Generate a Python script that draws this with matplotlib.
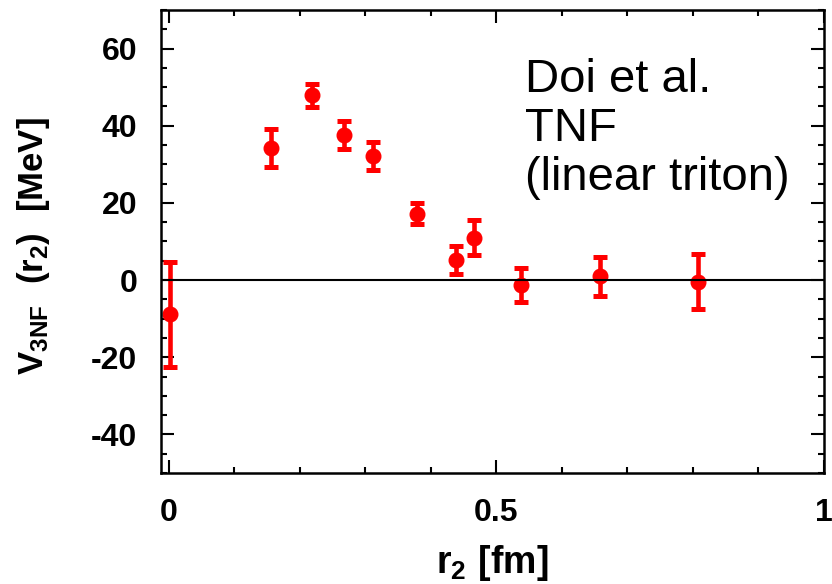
import numpy as np
import matplotlib
matplotlib.use("Agg")
import matplotlib.pyplot as plt
from matplotlib.ticker import MultipleLocator

plt.rcParams['font.family'] = ['Liberation Sans', 'DejaVu Sans']
plt.rcParams['axes.unicode_minus'] = False
plt.rcParams['mathtext.fontset'] = 'custom'
plt.rcParams['mathtext.rm'] = 'Liberation Sans:bold'
plt.rcParams['mathtext.bf'] = 'Liberation Sans:bold'
plt.rcParams['mathtext.it'] = 'Liberation Sans:bold'

## data
r2 = [0.0015, 0.156, 0.219, 0.268, 0.311, 0.379, 0.439, 0.466, 0.538, 0.658, 0.807]
v3nf = [-8.9, 34.2, 47.9, 37.6, 32.1, 17.2, 5.2, 11.0, -1.3, 1.0, -0.4]
err = [13.5, 5.0, 3.0, 3.7, 3.6, 2.7, 3.7, 4.6, 4.5, 5.1, 7.1]

xticks = [0, 0.5, 1]
xticklabels = ['0', '0.5', '1']
yticks = [-40, -20, 0, 20, 40, 60]

fig = plt.figure(figsize=(8.32, 5.84), dpi=100)
ax = fig.add_axes([161/832, 1-473/584, (824-161)/832, (473-10)/584])

ax.errorbar(r2, v3nf, yerr=err, fmt='o', color='#ff0000', ms=10.5,
            elinewidth=3.3, capsize=4.8, capthick=3.6, zorder=2)
ax.axhline(0, color='black', lw=1.5, zorder=3)

ax.set_xlim(-0.012, 1.0)
ax.set_ylim(-50, 70)
ax.set_xticks(xticks)
ax.set_xticklabels(xticklabels)
ax.set_yticks(yticks)
ax.xaxis.set_minor_locator(MultipleLocator(0.1))
ax.yaxis.set_minor_locator(MultipleLocator(5))

ax.tick_params(which='both', direction='in', top=True, right=True, width=1.5)
ax.tick_params(which='major', length=9.5)
ax.tick_params(which='minor', length=4.5)
ax.tick_params(axis='y', which='major', pad=17)
ax.tick_params(axis='x', which='major', pad=18)
for lab in ax.get_xticklabels() + ax.get_yticklabels():
    lab.set_fontsize(23)
    lab.set_fontweight('bold')
for s in ax.spines.values():
    s.set_linewidth(1.8)

ax.set_xlabel(r'$\mathbf{r_2\ [fm]}$', fontsize=27, va='center')
ax.xaxis.set_label_coords(0.5, -0.194)
ax.set_ylabel(r'$\mathbf{V_{3NF}\ \ (r_2)\ \ [MeV]}$', fontsize=25, va='center')
ax.yaxis.set_label_coords(-0.193, 0.49)

fig.text(525/832, 1-190/584, 'Doi et al.\nTNF\n(linear triton)',
         fontsize=34, ha='left', va='baseline', linespacing=1.15)

fig.savefig('out.png', dpi=100)
